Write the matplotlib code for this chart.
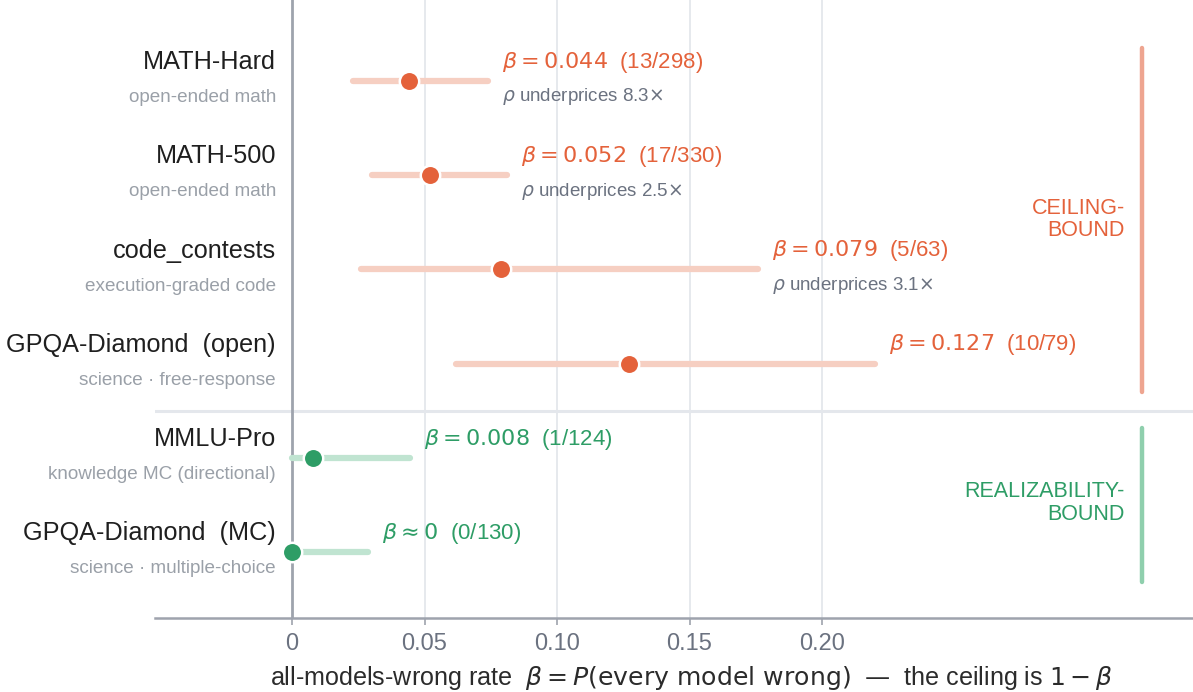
import matplotlib
matplotlib.use("Agg")
import matplotlib.pyplot as plt

# ---- data ----
benchmarks = ["MATH-Hard", "MATH-500", "code_contests", "GPQA-Diamond  (open)",
              "MMLU-Pro", "GPQA-Diamond  (MC)"]
descriptions = ["open-ended math", "open-ended math", "execution-graded code",
                "science · free-response", "knowledge MC (directional)",
                "science · multiple-choice"]
beta = [0.044, 0.052, 0.079, 0.127, 0.008, 0.0]
ci_lo = [0.023, 0.030, 0.026, 0.062, 0.0, 0.0]
ci_hi = [0.074, 0.081, 0.176, 0.220, 0.0445, 0.0288]
counts = ["13/298", "17/330", "5/63", "10/79", "1/124", "0/130"]
underprices = ["8.3", "2.5", "3.1", None, None, None]
group = ["ceiling", "ceiling", "ceiling", "ceiling", "real", "real"]
xticks = [0, 0.05, 0.10, 0.15, 0.20]
xticklabels = ["0", "0.05", "0.10", "0.15", "0.20"]

ORANGE = "#e4623b"
ORANGE_L = "#f6cfc2"
ORANGE_BAR = "#eea590"
GREEN = "#2e9d66"
GREEN_L = "#c0e4d1"
GREEN_BAR = "#8fcfad"
GRID = "#e4e7ec"
AXIS = "#9ea3ad"

plt.rcParams["font.family"] = ["Liberation Sans", "DejaVu Sans"]

fig = plt.figure(figsize=(11.93, 6.92), dpi=100)
ax = fig.add_axes([155 / 1193, 1 - 618 / 692, (1193 - 155) / 1193, 618 / 692])

ax.set_xlim(-0.0517, 0.340)
ax.set_ylim(5.70, -0.86)

for t in xticks[1:]:
    ax.axvline(t, color=GRID, lw=1.3, zorder=0)
ax.axvline(0, color=AXIS, lw=2.0, zorder=1)
ax.axhline(3.5, color=GRID, lw=2.2, zorder=0)

for s in ["top", "right", "left"]:
    ax.spines[s].set_visible(False)
ax.spines["bottom"].set_color(AXIS)
ax.spines["bottom"].set_linewidth(1.8)
ax.set_yticks([])
ax.set_xticks(xticks)
ax.set_xticklabels(xticklabels)
ax.tick_params(axis="x", colors=AXIS, length=5, width=1.2, labelsize=17,
               labelcolor="#6b7280", pad=6)
ax.set_xlabel(r"all-models-wrong rate  $\beta = P(\mathrm{every\ model\ wrong})$  —  the ceiling is $1 - \beta$",
              fontsize=18.1, color="#2b2b2b")
ax.xaxis.set_label_coords((692 - 155) / 1038, -60 / 618)
ax.xaxis.label.set_va("center")

for i in range(len(benchmarks)):
    c = ORANGE if group[i] == "ceiling" else GREEN
    cl = ORANGE_L if group[i] == "ceiling" else GREEN_L
    ax.plot([ci_lo[i], ci_hi[i]], [i, i], color=cl, lw=4.5,
            solid_capstyle="round", zorder=2)
    ax.plot(beta[i], i, "o", ms=14, color=c, mec="white", mew=1.8, zorder=4,
            clip_on=False)
    if beta[i] > 0:
        lab = r"$\beta = %.3f$  (%s)" % (beta[i], counts[i])
    else:
        lab = r"$\beta \approx 0$  (%s)" % counts[i]
    ax.annotate(lab, (ci_hi[i], i), xytext=(10, 13.5), textcoords="offset points",
                ha="left", va="center", fontsize=16, color=c)
    if underprices[i] is not None:
        ax.annotate(r"$\rho$ underprices %s$\times$" % underprices[i], (ci_hi[i], i),
                    xytext=(10, -11.5), textcoords="offset points",
                    ha="left", va="center", fontsize=13.5, color="#6b7280")
    ax.annotate(benchmarks[i], (0, i), xytext=(-11.5, 13.5), textcoords="offset points",
                ha="right", va="center", fontsize=18.2, color="#1f1f1f",
                annotation_clip=False)
    ax.annotate(descriptions[i], (0, i), xytext=(-11.5, -12), textcoords="offset points",
                ha="right", va="center", fontsize=13.6, color="#9aa0a8",
                annotation_clip=False)

# group brackets
ax.plot([0.3208, 0.3208], [-0.35, 3.30], color=ORANGE_BAR, lw=3.2,
        solid_capstyle="round", zorder=2)
ax.plot([0.3208, 0.3208], [3.68, 5.32], color=GREEN_BAR, lw=3.2,
        solid_capstyle="round", zorder=2)
ax.text(0.3143, 1.47, "CEILING-\nBOUND", ha="right", va="center", fontsize=15.5,
        color=ORANGE, linespacing=1.08)
ax.text(0.3143, 4.48, "REALIZABILITY-\nBOUND", ha="right", va="center", fontsize=15.5,
        color=GREEN, linespacing=1.08)

fig.savefig("out.png", dpi=100)
